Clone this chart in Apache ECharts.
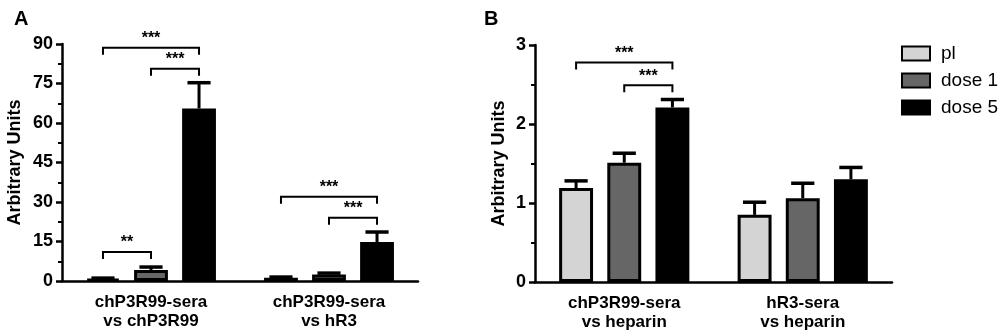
<!DOCTYPE html>
<html>
<head>
<meta charset="utf-8">
<script src="https://cdn.jsdelivr.net/npm/echarts@6/dist/echarts.min.js"></script>
<style>
  html, body { margin: 0; padding: 0; background: #fff; }
  #main { width: 1000px; height: 334px; }
</style>
</head>
<body>
<div id="main"></div>
<script>
const seriesNames = ['pl', 'dose 1', 'dose 5'];
const barColors = ['#d4d4d4', '#666666', '#000000'];

// Panel A
const categoriesA = ['chP3R99-sera\nvs chP3R99', 'chP3R99-sera\nvs hR3'];
const meanA = [
  [0.8, 1.2],   // pl
  [4.2, 2.5],   // dose 1
  [65.5, 14.8]  // dose 5
];
const semA = [
  [0.3, 0.3],
  [1.1, 0.5],
  [9.8, 3.8]
];
const yTicksA = { max: 90, interval: 15 };
// [category, from bar, to bar, y, label]
const bracketsA = [
  [0, 0, 2, 88.6, '***'],
  [0, 1, 2, 80.6, '***'],
  [0, 0, 1, 11, '**'],
  [1, 0, 2, 32, '***'],
  [1, 1, 2, 24, '***']
];

// Panel B
const categoriesB = ['chP3R99-sera\nvs heparin', 'hR3-sera\nvs heparin'];
const meanB = [
  [1.19, 0.85],
  [1.51, 1.06],
  [2.21, 1.30]
];
const semB = [
  [0.09, 0.16],
  [0.12, 0.19],
  [0.10, 0.15]
];
const yTicksB = { max: 3, interval: 1 };
const bracketsB = [
  [0, 0, 2, 2.78, '***'],
  [0, 1, 2, 2.49, '***']
];

const FONT = '"Liberation Sans", Arial, sans-serif';
const BAR_W = 0.19, BAR_GAP = 0.42;
const OFF = BAR_W * (1 + BAR_GAP);

function errorData(mean, sem) {
  const out = [];
  mean.forEach((vals, s) => vals.forEach((v, c) => out.push([c, s, v, sem[s][c]])));
  return out;
}

function renderError(params, api) {
  const c = api.value(0), s = api.value(1), m = api.value(2), e = api.value(3);
  const bw = api.size([1, 0])[0];
  const base = api.coord([c, m]);
  const top = api.coord([c, m + e]);
  const x = base[0] + (s - 1) * bw * OFF;
  const cap = bw * 0.065;
  return {
    type: 'group',
    children: [
      { type: 'line', shape: { x1: x, y1: base[1], x2: x, y2: top[1] }, style: { stroke: '#000', lineWidth: 3 } },
      { type: 'line', shape: { x1: x - cap, y1: top[1], x2: x + cap, y2: top[1] }, style: { stroke: '#000', lineWidth: 3.5 } }
    ]
  };
}

function renderBracket(params, api) {
  const c = api.value(0), a = api.value(1), b = api.value(2), y = api.value(3);
  const label = bracketLabels[params.seriesIndex][params.dataIndex];
  const bw = api.size([1, 0])[0];
  const p = api.coord([c, y]);
  const x1 = p[0] + (a - 1) * bw * OFF;
  const x2 = p[0] + (b - 1) * bw * OFF;
  const drop = 7;
  return {
    type: 'group',
    children: [
      { type: 'polyline', shape: { points: [[x1, p[1] + drop], [x1, p[1]], [x2, p[1]], [x2, p[1] + drop]] },
        style: { stroke: '#000', lineWidth: 2, fill: null } },
      { type: 'text', x: (x1 + x2) / 2, y: p[1] - 1,
        style: { text: label, font: 'bold 16px ' + FONT, fill: '#000', align: 'center', verticalAlign: 'bottom' } }
    ]
  };
}

const bracketLabels = {};

function panelSeries(idx, mean, sem, brackets, baseIndex) {
  const list = [];
  seriesNames.forEach((name, s) => {
    list.push({
      type: 'bar', name: name, xAxisIndex: idx, yAxisIndex: idx,
      data: mean[s], barWidth: (BAR_W * 100) + '%', barGap: (BAR_GAP * 100) + '%',
      itemStyle: { color: barColors[s], borderColor: '#000', borderWidth: 3 },
      z: 2
    });
  });
  list.push({
    type: 'custom', xAxisIndex: idx, yAxisIndex: idx, z: 1,
    data: errorData(mean, sem), renderItem: renderError, silent: true
  });
  bracketLabels[baseIndex + 4] = brackets.map(b => b[4]);
  list.push({
    type: 'custom', xAxisIndex: idx, yAxisIndex: idx, z: 3,
    data: brackets.map(b => b.slice(0, 4)), renderItem: renderBracket, silent: true
  });
  return list;
}

function xAxis(idx, cats) {
  return {
    type: 'category', gridIndex: idx, data: cats,
    axisLine: { lineStyle: { color: '#000', width: 2.5 } },
    axisTick: { alignWithLabel: true, length: 7, lineStyle: { color: '#000', width: 2.5 } },
    axisLabel: { color: '#000', fontFamily: FONT, fontWeight: 'bold', fontSize: 17, lineHeight: 19, margin: 12 }
  };
}

function yAxis(idx, t, gap) {
  return {
    type: 'value', gridIndex: idx, min: 0, max: t.max, interval: t.interval,
    name: 'Arbitrary Units', nameLocation: 'middle', nameGap: gap,
    nameTextStyle: { color: '#000', fontFamily: FONT, fontWeight: 'bold', fontSize: 18 },
    axisLine: { show: true, lineStyle: { color: '#000', width: 2.5 } },
    axisTick: { show: true, length: 6, lineStyle: { color: '#000', width: 2.5 } },
    minorTick: { show: true, splitNumber: 2, length: 4, lineStyle: { color: '#000', width: 2 } },
    splitLine: { show: false },
    axisLabel: { color: '#000', fontFamily: FONT, fontWeight: 'bold', fontSize: 18, margin: 9 }
  };
}

const chart = echarts.init(document.getElementById('main'), null, { renderer: 'canvas' });

const series = [].concat(
  panelSeries(0, meanA, semA, bracketsA, 0),
  panelSeries(1, meanB, semB, bracketsB, 5)
);

chart.setOption({
  animation: false,
  backgroundColor: '#fff',
  title: [
    { text: 'A', left: 9, top: 4, textStyle: { fontFamily: FONT, fontWeight: 'bold', fontSize: 20, color: '#000' } },
    { text: 'B', left: 479, top: 4, textStyle: { fontFamily: FONT, fontWeight: 'bold', fontSize: 20, color: '#000' } }
  ],
  legend: {
    data: seriesNames, orient: 'vertical', left: 896, top: 39,
    itemWidth: 28, itemHeight: 14, itemGap: 8, selectedMode: false,
    icon: 'rect',
    textStyle: { fontFamily: FONT, fontSize: 19, color: '#000', padding: [0, 0, 0, 6] }
  },
  grid: [
    { left: 62, top: 44, width: 356, height: 237 },
    { left: 535, top: 45, width: 357, height: 237 }
  ],
  xAxis: [xAxis(0, categoriesA), xAxis(1, categoriesB)],
  yAxis: [yAxis(0, yTicksA, 38), yAxis(1, yTicksB, 27)],
  series: series
});
</script>
</body>
</html>
